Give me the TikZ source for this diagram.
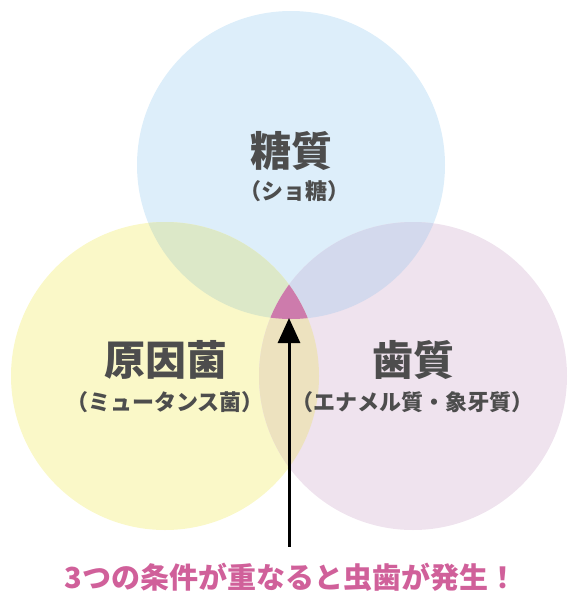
\documentclass[tikz,border=0pt]{standalone}
\usepackage{fontspec}
\newfontfamily\jp{Noto Sans CJK JP}
\usetikzlibrary{arrows.meta}
\definecolor{sugarc}{HTML}{DDEEFA}
\definecolor{germc}{HTML}{FAF8C8}
\definecolor{toothc}{HTML}{EFE3EE}
\definecolor{sgc}{HTML}{DCE8C8}
\definecolor{stc}{HTML}{D3D9ED}
\definecolor{gtc}{HTML}{EDE2BF}
\definecolor{allc}{HTML}{CD7BAC}
\definecolor{textc}{HTML}{4D4D4D}
\definecolor{notec}{HTML}{D0609A}
\tikzset{
  title/.style={text=textc,font=\jp\bfseries\fontsize{41}{44}\selectfont,inner sep=0pt},
  sub/.style={text=textc,font=\jp\bfseries\fontsize{22}{24}\selectfont,inner sep=0pt},
}

\begin{document}
\begin{tikzpicture}[x=1pt,y=-1pt]
\useasboundingbox (0,0) rectangle (578,600);
\coordinate (S) at (291,165); \coordinate (G) at (165,376); \coordinate (T) at (413,376);
\def\rr{154pt}
% circles
\fill[sugarc] (S) circle (\rr);
\fill[germc] (G) circle (\rr);
\fill[toothc] (T) circle (\rr);
% overlaps
\begin{scope} \clip (S) circle (\rr); \fill[sgc] (G) circle (\rr); \end{scope}
\begin{scope} \clip (S) circle (\rr); \fill[stc] (T) circle (\rr); \end{scope}
\begin{scope} \clip (G) circle (\rr); \fill[gtc] (T) circle (\rr); \end{scope}
\begin{scope} \clip (S) circle (\rr); \clip (G) circle (\rr); \fill[allc] (T) circle (\rr); \end{scope}
% labels
\node[title] (sugar) at (291,151) {糖質};
\node[sub] (sugarsub) at (294,191) {（ショ糖）};
\node[title] (germ) at (166,360) {原因菌};
\node[sub] (germsub) at (165,402) {（ミュータンス菌）};
\node[title] (tooth) at (413,360) {歯質};
\node[sub] (toothsub) at (412,402) {（エナメル質・象牙質）};
\coordinate (tip) at (289,318);
\node[text=notec,font=\jp\bfseries\fontsize{29}{31}\selectfont,inner sep=0pt] (note) at (291,577) {3つの条件が重なると虫歯が発生！};
\draw[line width=3pt,-{Triangle[width=22pt,length=25pt]}] ([yshift=16pt]note.north -| tip) -- (tip);
\end{tikzpicture}
\end{document}
